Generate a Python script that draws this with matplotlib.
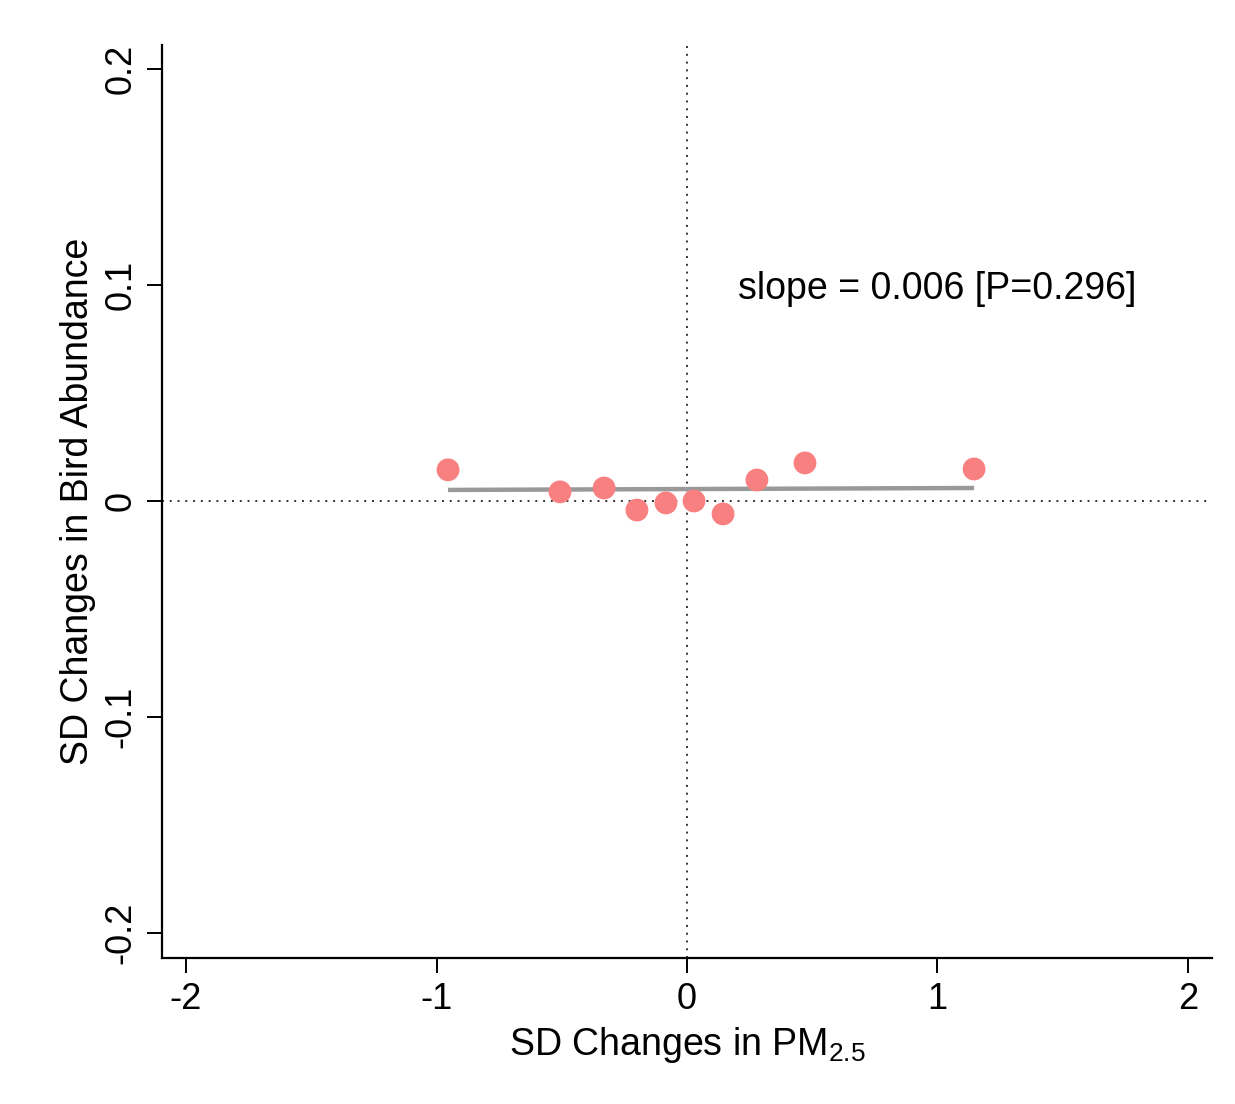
import matplotlib
matplotlib.use("Agg")
import matplotlib.pyplot as plt
import numpy as np

# data
pm_sd = [-0.954, -0.507, -0.331, -0.200, -0.084, 0.028, 0.144, 0.279, 0.471, 1.146]
bird_sd = [0.0144, 0.0042, 0.0060, -0.0042, -0.0009, 0.0000, -0.0060, 0.0097, 0.0176, 0.0148]
fit_x = [-0.954, 1.146]
fit_y = [0.0051, 0.0060]
x_ticks = [-2, -1, 0, 1, 2]
y_ticks = [-0.2, -0.1, 0, 0.1, 0.2]
y_ticklabels = ["-0.2", "-0.1", "0", "0.1", "0.2"]
annot = "slope = 0.006 [P=0.296]"

plt.rcParams['font.family'] = ['Liberation Sans', 'DejaVu Sans']
plt.rcParams['mathtext.fontset'] = 'custom'
plt.rcParams['mathtext.rm'] = 'Liberation Sans'

fig = plt.figure(figsize=(12.35, 11.04), dpi=100)
ax = fig.add_axes([162/1235, 1-958/1104, (1212-162)/1235, (958-45)/1104])

ax.axvline(0, color='#333333', lw=1.4, ls=(0, (1, 3)), zorder=1)
ax.axhline(0, color='#333333', lw=1.4, ls=(0, (1, 3)), zorder=1)
ax.plot(fit_x, fit_y, color='#999999', lw=3.2, zorder=2, solid_capstyle='butt')
ax.scatter(pm_sd, bird_sd, s=270, color='#F88080', edgecolors='none', zorder=3)

ax.set_xlim(-2.096, 2.096)
ax.set_ylim(-0.2115, 0.211)
ax.set_xticks(x_ticks)
ax.set_xticklabels([str(t) for t in x_ticks])
ax.set_yticks(y_ticks)
ax.set_yticklabels(y_ticklabels, rotation=90, va='center')

for s in ['top', 'right']:
    ax.spines[s].set_visible(False)
for s in ['left', 'bottom']:
    ax.spines[s].set_linewidth(1.6)
ax.tick_params(axis='both', length=11, width=1.4, labelsize=26, pad=6)

ax.set_xlabel(r"SD Changes in PM$_{\mathregular{2.5}}$", fontsize=27, labelpad=6)
ax.set_ylabel("SD Changes in Bird Abundance", fontsize=27, labelpad=5)

ax.text(0.204, 0.098, annot, fontsize=27, va='center', ha='left')

fig.savefig("out.png", dpi=100, facecolor='white')
